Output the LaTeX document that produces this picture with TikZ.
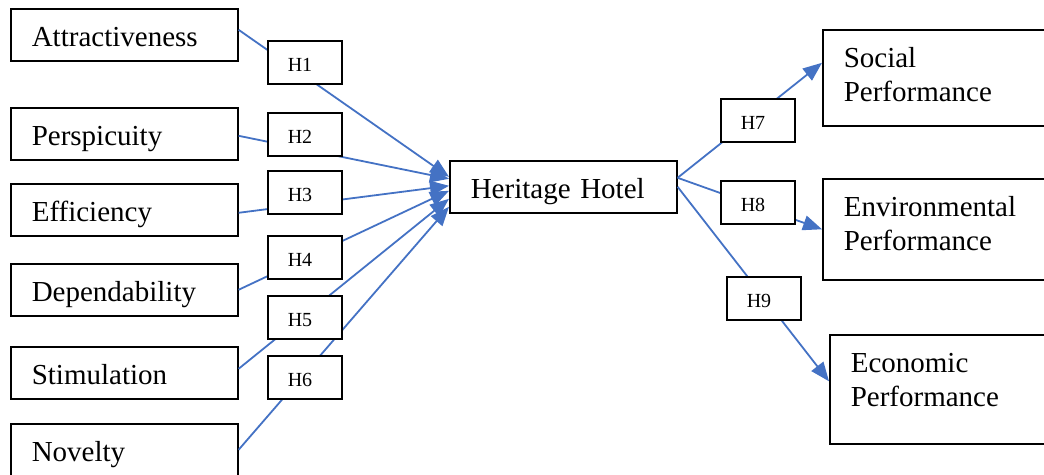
\documentclass[tikz,border=0pt]{standalone}
\usepackage{fontspec}
\setmainfont{Liberation Serif}
\usetikzlibrary{arrows.meta}
\definecolor{linkblue}{RGB}{68,114,196}
% text of the performance boxes, set from the top
\newcommand{\perftext}[2]{\parbox[t][#1][t]{91pt}{\rule{0pt}{19pt}#2}}

\begin{document}
\begin{tikzpicture}[x=0.5pt, y=-0.5pt,
  factor/.style={draw, line width=0.8pt, anchor=north west, inner xsep=10.5pt, inner ysep=0pt,
    text width=92.5pt, text height=12pt, text depth=0pt, minimum height=26pt, align=left,
    font=\fontsize{14.5}{17}\selectfont},
  perf/.style={draw, line width=0.8pt, anchor=north west, inner xsep=10.5pt, inner ysep=0pt,
    font=\fontsize{14.5}{16.75}\selectfont},
  hypo/.style={draw, fill=white, line width=0.8pt, anchor=north west, inner xsep=10pt, inner ysep=0pt,
    text width=17pt, text height=9.5pt, text depth=0pt, minimum height=21.5pt, align=left,
    font=\fontsize{10}{12}\selectfont},
  link/.style={draw=linkblue, line width=0.9pt, -{Triangle[length=9.5pt,width=7.5pt]}}]
\useasboundingbox (0,0) rectangle (1044,475);

%%% UX factors %%%
      \node[factor] (attr)  at (10,8)   {Attractiveness};
      \node[factor] (persp) at (10,107) {Perspicuity};
      \node[factor] (effic) at (10,183) {Efficiency};
      \node[factor] (depend) at (10,263) {Dependability};
      \node[factor] (stim)  at (10,346) {Stimulation};
      \node[factor] (novel) at (10,423) {Novelty};
      %%
      \node[factor] (hotel) at (449,160) {Heritage Hotel};
      %%
      \node[perf] (social) at (822,29)  {\perftext{48pt}{Social\\Performance}};
      \node[perf] (envir)  at (822,178) {\perftext{50.5pt}{Environmental\\Performance}};
      \node[perf] (econ)   at (829,334) {\perftext{54.5pt}{Economic\\Performance}};

%%% hypotheses %%%
      \draw[link] ([yshift=2.5pt]attr.east) -- ([yshift=5pt]hotel.west);
      \draw[link] ([yshift=-1pt]persp.east) -- ([yshift=4pt]hotel.west);
      \draw[link] ([yshift=-1.5pt]effic.east) -- ([yshift=0.5pt]hotel.west);
      \draw[link] (depend.east) -- ([yshift=-2pt]hotel.west);
      \draw[link] ([yshift=2pt]stim.east) -- ([yshift=-6pt]hotel.west);
      \draw[link] (novel.east) -- ([yshift=-10pt]hotel.west);
      %%
      \draw[link] ([yshift=4.5pt]hotel.east) -- ([yshift=7.5pt]social.west);
      \draw[link] ([yshift=4.5pt]hotel.east) -- (envir.west);
      \draw[link] (hotel.east) -- ([yshift=4pt]econ.west);
      %%
      \node[hypo] (h1) at (267,40)  {H1};
      \node[hypo] (h2) at (267,112) {H2};
      \node[hypo] (h3) at (267,170) {H3};
      \node[hypo] (h4) at (267,235) {H4};
      \node[hypo] (h5) at (267,295) {H5};
      \node[hypo] (h6) at (267,355) {H6};
      \node[hypo] (h7) at (720,98)  {H7};
      \node[hypo] (h8) at (720,180) {H8};
      \node[hypo] (h9) at (726,276) {H9};

\end{tikzpicture}
\end{document}
